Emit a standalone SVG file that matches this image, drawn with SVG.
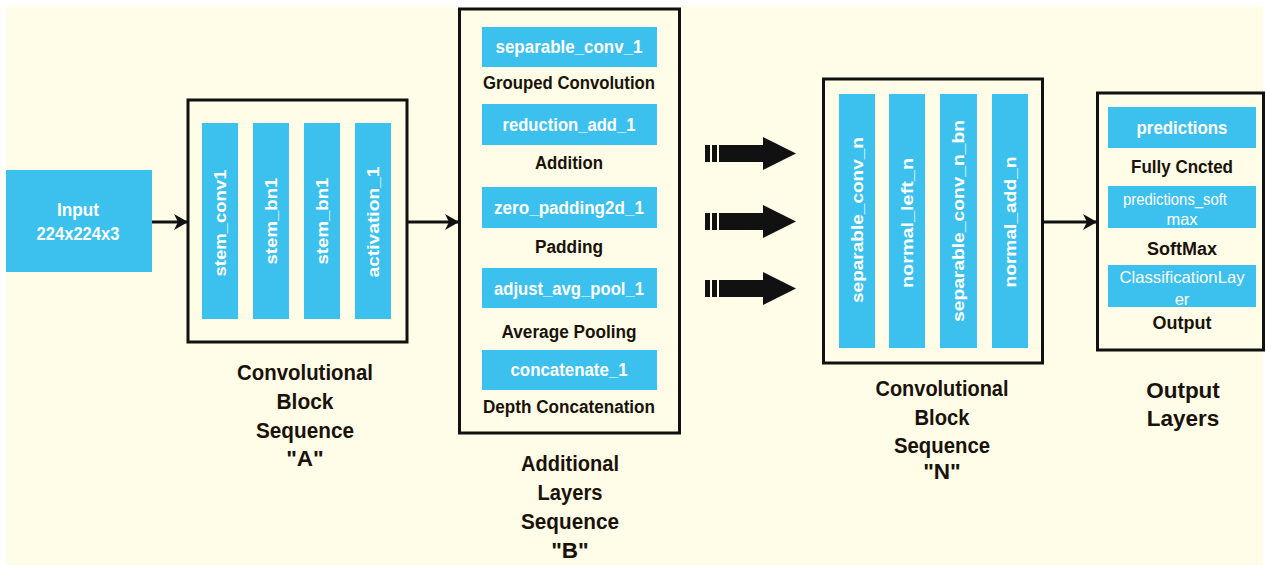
<svg xmlns="http://www.w3.org/2000/svg" width="1266" height="566" viewBox="0 0 1266 566">
<defs>
<style>
.bg{fill:#fffde8}
.frame{fill:#fffde8;stroke:#111;stroke-width:3}
.blue{fill:#3cc0ee}
.wt{font-family:"Liberation Sans",Arial,sans-serif;font-weight:bold;fill:#ffffff;text-anchor:middle;dominant-baseline:central}
.wr{font-family:"Liberation Sans",Arial,sans-serif;fill:#ffffff;text-anchor:middle;dominant-baseline:central}
.lb{font-family:"Liberation Sans",Arial,sans-serif;font-weight:bold;fill:#1a1208;text-anchor:middle;dominant-baseline:central;font-size:18px}
.title{font-family:"Liberation Sans",Arial,sans-serif;font-weight:bold;fill:#1a1208;text-anchor:middle;font-size:22.5px}
.conn{stroke:#111;stroke-width:3;fill:none}
.big{fill:#111}
</style>
<marker id="ah" markerUnits="userSpaceOnUse" markerWidth="14" markerHeight="16" refX="13" refY="8" orient="auto">
<path d="M0,0 L14,8 L0,16 L4,8 Z" fill="#111"/>
</marker>
</defs>
<rect x="0" y="0" width="1266" height="566" fill="#ffffff"/>
<rect class="bg" x="6" y="7" width="1257" height="558"/>

<g id="input">
<rect class="blue" x="6" y="170" width="146" height="102"/>
<text class="wt" x="78" y="210" font-size="17.5" textLength="42" lengthAdjust="spacingAndGlyphs">Input</text>
<text class="wt" x="78" y="234" font-size="17.5" textLength="83" lengthAdjust="spacingAndGlyphs">224x224x3</text>
</g>

<g id="blockA">
<rect class="frame" x="188" y="100" width="219" height="242"/>
<rect class="blue" x="202" y="123" width="36" height="196"/>
<rect class="blue" x="253" y="123" width="36" height="196"/>
<rect class="blue" x="304" y="123" width="36" height="196"/>
<rect class="blue" x="355" y="123" width="36" height="196"/>
<text class="wt" font-size="17" transform="translate(220,223) rotate(-90)" textLength="107" lengthAdjust="spacingAndGlyphs">stem_conv1</text>
<text class="wt" font-size="17" transform="translate(271,221) rotate(-90)" textLength="87" lengthAdjust="spacingAndGlyphs">stem_bn1</text>
<text class="wt" font-size="17" transform="translate(322,221) rotate(-90)" textLength="87" lengthAdjust="spacingAndGlyphs">stem_bn1</text>
<text class="wt" font-size="17" transform="translate(373,222) rotate(-90)" textLength="111" lengthAdjust="spacingAndGlyphs">activation_1</text>
<text class="title" x="305" y="380" textLength="136" lengthAdjust="spacingAndGlyphs">Convolutional</text>
<text class="title" x="305" y="409" textLength="57" lengthAdjust="spacingAndGlyphs">Block</text>
<text class="title" x="305" y="438" textLength="98" lengthAdjust="spacingAndGlyphs">Sequence</text>
<text class="title" x="305" y="466" font-size="21.5">"A"</text>
</g>

<g id="blockB">
<rect class="frame" x="459.5" y="9" width="220" height="424"/>
<rect class="blue" x="482" y="27" width="175" height="40"/>
<text class="wt" x="569" y="47" font-size="18" textLength="147" lengthAdjust="spacingAndGlyphs">separable_conv_1</text>
<text class="lb" x="569" y="83" textLength="172" lengthAdjust="spacingAndGlyphs">Grouped Convolution</text>
<rect class="blue" x="482" y="104" width="175" height="41"/>
<text class="wt" x="569" y="125" font-size="18" textLength="133" lengthAdjust="spacingAndGlyphs">reduction_add_1</text>
<text class="lb" x="569" y="163" textLength="68" lengthAdjust="spacingAndGlyphs">Addition</text>
<rect class="blue" x="482" y="187" width="175" height="41"/>
<text class="wt" x="569" y="208" font-size="18" textLength="150" lengthAdjust="spacingAndGlyphs">zero_padding2d_1</text>
<text class="lb" x="569" y="247" textLength="68" lengthAdjust="spacingAndGlyphs">Padding</text>
<rect class="blue" x="482" y="268" width="175" height="40"/>
<text class="wt" x="569" y="289" font-size="18" textLength="150" lengthAdjust="spacingAndGlyphs">adjust_avg_pool_1</text>
<text class="lb" x="569" y="332" textLength="135" lengthAdjust="spacingAndGlyphs">Average Pooling</text>
<rect class="blue" x="482" y="350" width="175" height="40"/>
<text class="wt" x="569" y="370" font-size="18" textLength="117" lengthAdjust="spacingAndGlyphs">concatenate_1</text>
<text class="lb" x="569" y="407" textLength="172" lengthAdjust="spacingAndGlyphs">Depth Concatenation</text>
<text class="title" x="570" y="471" textLength="98" lengthAdjust="spacingAndGlyphs">Additional</text>
<text class="title" x="570" y="500" textLength="65" lengthAdjust="spacingAndGlyphs">Layers</text>
<text class="title" x="570" y="529" textLength="98" lengthAdjust="spacingAndGlyphs">Sequence</text>
<text class="title" x="570" y="558" font-size="21.5">"B"</text>
</g>

<g id="blockN">
<rect class="frame" x="823.5" y="79" width="219" height="284"/>
<rect class="blue" x="839" y="94" width="36" height="254"/>
<rect class="blue" x="889" y="94" width="36" height="254"/>
<rect class="blue" x="940" y="94" width="37" height="254"/>
<rect class="blue" x="992" y="94" width="36" height="254"/>
<text class="wt" font-size="17" transform="translate(857,220) rotate(-90)" textLength="166" lengthAdjust="spacingAndGlyphs">separable_conv_n</text>
<text class="wt" font-size="17" transform="translate(907,223) rotate(-90)" textLength="130" lengthAdjust="spacingAndGlyphs">normal_left_n</text>
<text class="wt" font-size="17" transform="translate(958,221) rotate(-90)" textLength="202" lengthAdjust="spacingAndGlyphs">separable_conv_n_bn</text>
<text class="wt" font-size="17" transform="translate(1010,222) rotate(-90)" textLength="131" lengthAdjust="spacingAndGlyphs">normal_add_n</text>
<text class="title" x="942" y="396" textLength="133" lengthAdjust="spacingAndGlyphs">Convolutional</text>
<text class="title" x="942" y="425" textLength="55" lengthAdjust="spacingAndGlyphs">Block</text>
<text class="title" x="942" y="453" textLength="96" lengthAdjust="spacingAndGlyphs">Sequence</text>
<text class="title" x="942" y="479" font-size="21.5">"N"</text>
</g>

<g id="output">
<rect class="frame" x="1097.5" y="93" width="166" height="257"/>
<rect class="blue" x="1108" y="107" width="148" height="41"/>
<text class="wt" x="1182" y="128" font-size="18" textLength="91" lengthAdjust="spacingAndGlyphs">predictions</text>
<text class="lb" x="1182" y="167" textLength="102" lengthAdjust="spacingAndGlyphs">Fully Cncted</text>
<rect class="blue" x="1108" y="186" width="148" height="42"/>
<text class="wr" x="1175" y="199" font-size="16.5" textLength="104" lengthAdjust="spacingAndGlyphs">predictions_soft</text>
<text class="wr" x="1182" y="219" font-size="16.5">max</text>
<text class="lb" x="1182" y="249" font-size="17">SoftMax</text>
<rect class="blue" x="1108" y="265" width="148" height="42"/>
<text class="wr" x="1182" y="277" font-size="16.5" textLength="125" lengthAdjust="spacingAndGlyphs">ClassificationLay</text>
<text class="wr" x="1182" y="299" font-size="16.5">er</text>
<text class="lb" x="1182" y="323" font-size="17">Output</text>
<text class="title" x="1183" y="398" font-size="21.5">Output</text>
<text class="title" x="1183" y="426" font-size="21.5">Layers</text>
</g>

<g id="connectors">
<line class="conn" x1="152" y1="222" x2="187" y2="222" marker-end="url(#ah)"/>
<line class="conn" x1="408" y1="222" x2="458" y2="222" marker-end="url(#ah)"/>
<line class="conn" x1="1044" y1="222" x2="1096" y2="222" marker-end="url(#ah)"/>
<g class="big">
<rect x="705" y="145" width="5" height="17"/><rect x="712" y="145" width="5" height="17"/>
<polygon points="719,145 763,145 763,137 796,153.5 763,170 763,162 719,162"/>
<rect x="705" y="213" width="5" height="17"/><rect x="712" y="213" width="5" height="17"/>
<polygon points="719,213 763,213 763,205 796,221.5 763,238 763,230 719,230"/>
<rect x="705" y="280" width="5" height="17"/><rect x="712" y="280" width="5" height="17"/>
<polygon points="719,280 763,280 763,272 796,288.5 763,305 763,297 719,297"/>
</g>
</g>
</svg>
